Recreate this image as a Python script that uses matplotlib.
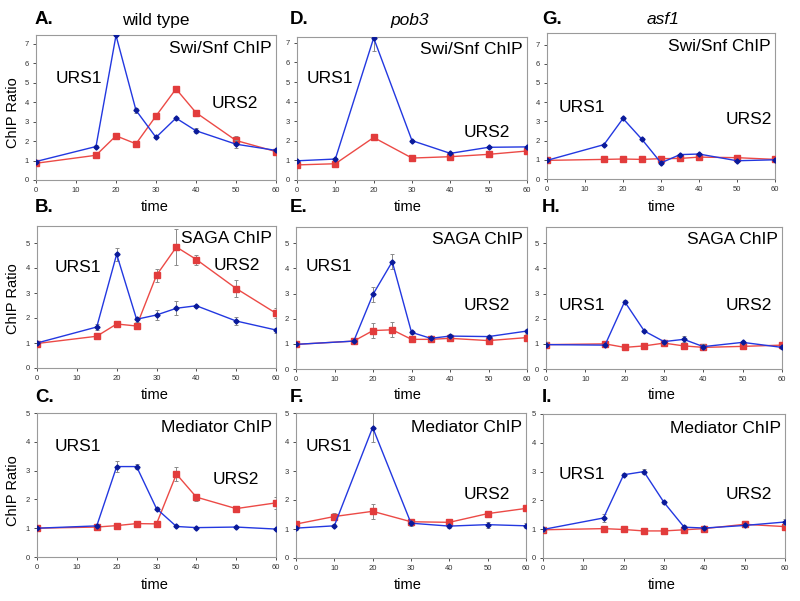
import matplotlib
matplotlib.use('Agg')
import matplotlib.pyplot as plt

plt.rcParams['font.family'] = ['Liberation Sans', 'DejaVu Sans']

W, H = 800, 601
BLUE = '#2338e0'
BLUE_MK = '#0a1a9a'
RED = '#ec4a46'
RED_MK = '#e23c3c'
ERR = '#8a8a8a'

# time points
t_full = [0, 15, 20, 25, 30, 35, 40, 50, 60]
t_pob3 = [0, 10, 20, 30, 40, 50, 60]

# wild type
a_urs1 = [0.95, 1.72, 7.43, 3.58, 2.19, 3.18, 2.53, 1.84, 1.52]
a_urs1_err = [0.03, 0.08, 0.05, 0.12, 0.05, 0.08, 0.12, 0.2, 0.05]
a_urs2 = [0.86, 1.27, 2.27, 1.86, 3.29, 4.68, 3.46, 2.03, 1.46]
a_urs2_err = [0.03, 0.05, 0.08, 0.08, 0.1, 0.1, 0.08, 0.25, 0.08]

b_urs1 = [1.0, 1.64, 4.55, 1.95, 2.12, 2.39, 2.49, 1.88, 1.52]
b_urs1_err = [0.05, 0.13, 0.25, 0.1, 0.2, 0.28, 0.05, 0.17, 0.1]
b_urs2 = [0.98, 1.27, 1.76, 1.68, 3.71, 4.84, 4.34, 3.18, 2.19]
b_urs2_err = [0.05, 0.05, 0.1, 0.12, 0.27, 0.7, 0.2, 0.33, 0.2]

c_urs1 = [1.0, 1.08, 3.14, 3.14, 1.68, 1.06, 1.02, 1.04, 0.97]
c_urs1_err = [0.02, 0.03, 0.2, 0.1, 0.05, 0.03, 0.03, 0.03, 0.03]
c_urs2 = [1.0, 1.04, 1.09, 1.16, 1.15, 2.88, 2.08, 1.68, 1.88]
c_urs2_err = [0.02, 0.03, 0.05, 0.08, 0.08, 0.25, 0.12, 0.05, 0.2]

# pob3
d_urs1 = [0.98, 1.07, 7.25, 2.01, 1.36, 1.67, 1.69]
d_urs1_err = [0.03, 0.05, 0.65, 0.05, 0.05, 0.05, 0.05]
d_urs2 = [0.77, 0.83, 2.17, 1.12, 1.19, 1.31, 1.48]
d_urs2_err = [0.03, 0.05, 0.15, 0.05, 0.05, 0.05, 0.05]

e_urs1 = [0.98, 1.11, 2.97, 4.27, 1.46, 1.22, 1.31, 1.29, 1.51]
e_urs1_err = [0.02, 0.02, 0.3, 0.3, 0.05, 0.05, 0.08, 0.05, 0.08]
e_urs2 = [0.98, 1.11, 1.53, 1.56, 1.18, 1.18, 1.22, 1.13, 1.25]
e_urs2_err = [0.02, 0.02, 0.3, 0.3, 0.05, 0.05, 0.08, 0.05, 0.15]

f_urs1 = [1.03, 1.11, 4.5, 1.2, 1.1, 1.15, 1.11]
f_urs1_err = [0.05, 0.05, 0.5, 0.08, 0.08, 0.1, 0.08]
f_urs2 = [1.17, 1.43, 1.61, 1.25, 1.23, 1.53, 1.71]
f_urs2_err = [0.05, 0.12, 0.25, 0.08, 0.05, 0.05, 0.05]

# asf1
g_urs1 = [0.97, 1.79, 3.15, 2.06, 0.84, 1.27, 1.3, 0.95, 1.0]
g_urs1_err = [0.03, 0.05, 0.05, 0.05, 0.05, 0.05, 0.05, 0.05, 0.03]
g_urs2 = [0.97, 1.02, 1.04, 1.02, 1.06, 1.07, 1.14, 1.11, 1.02]
g_urs2_err = [0.03, 0.03, 0.03, 0.03, 0.03, 0.03, 0.03, 0.03, 0.03]

h_urs1 = [0.97, 0.95, 2.68, 1.51, 1.09, 1.18, 0.89, 1.06, 0.86]
h_urs1_err = [0.1, 0.05, 0.05, 0.05, 0.08, 0.12, 0.1, 0.05, 0.08]
h_urs2 = [0.97, 1.0, 0.86, 0.92, 1.03, 0.92, 0.86, 0.9, 0.95]
h_urs2_err = [0.1, 0.05, 0.05, 0.05, 0.05, 0.12, 0.12, 0.05, 0.08]

i_urs1 = [0.99, 1.39, 2.89, 3.0, 1.93, 1.07, 1.04, 1.13, 1.25]
i_urs1_err = [0.1, 0.15, 0.05, 0.1, 0.05, 0.08, 0.05, 0.05, 0.1]
i_urs2 = [0.98, 1.02, 0.99, 0.94, 0.94, 0.98, 1.02, 1.17, 1.09]
i_urs2_err = [0.08, 0.03, 0.03, 0.03, 0.03, 0.03, 0.03, 0.03, 0.08]

# (letter, times, urs1, urs1_err, urs2, urs2_err, box px (l, r, top, bottom), ymax,
#  chip label, urs1 pos, urs2 pos)
panels = [
    ('A', t_full, a_urs1, a_urs1_err, a_urs2, a_urs2_err, (36, 276, 35, 180), 7.45, [0, 1, 2, 3, 4, 5, 6, 7],
     'Swi/Snf ChIP', (0.08, 0.70), (0.73, 0.53)),
    ('D', t_pob3, d_urs1, d_urs1_err, d_urs2, d_urs2_err, (297, 527, 37, 180), 7.3, [0, 1, 2, 3, 4, 5, 6, 7],
     'Swi/Snf ChIP', (0.043, 0.71), (0.726, 0.33)),
    ('G', t_full, g_urs1, g_urs1_err, g_urs2, g_urs2_err, (547, 775, 33, 179), 7.6, [0, 1, 2, 3, 4, 5, 6, 7],
     'Swi/Snf ChIP', (0.053, 0.49), (0.785, 0.41)),
    ('B', t_full, b_urs1, b_urs1_err, b_urs2, b_urs2_err, (37, 276, 226, 368), 5.68, [0, 1, 2, 3, 4, 5],
     'SAGA ChIP', (0.075, 0.71), (0.738, 0.725)),
    ('E', t_full, e_urs1, e_urs1_err, e_urs2, e_urs2_err, (296, 527, 227, 369), 5.65, [0, 1, 2, 3, 4, 5],
     'SAGA ChIP', (0.043, 0.72), (0.727, 0.45)),
    ('H', t_full, h_urs1, h_urs1_err, h_urs2, h_urs2_err, (546, 782, 227, 369), 5.65, [0, 1, 2, 3, 4, 5],
     'SAGA ChIP', (0.055, 0.45), (0.763, 0.45)),
    ('C', t_full, c_urs1, c_urs1_err, c_urs2, c_urs2_err, (37, 276, 413, 557), 5.0, [0, 1, 2, 3, 4, 5],
     'Mediator ChIP', (0.075, 0.77), (0.733, 0.535)),
    ('F', t_pob3, f_urs1, f_urs1_err, f_urs2, f_urs2_err, (296, 526, 413, 558), 5.0, [0, 1, 2, 3, 4, 5],
     'Mediator ChIP', (0.043, 0.77), (0.73, 0.44)),
    ('I', t_full, i_urs1, i_urs1_err, i_urs2, i_urs2_err, (543, 785, 414, 558), 5.0, [0, 1, 2, 3, 4, 5],
     'Mediator ChIP', (0.066, 0.58), (0.756, 0.44)),
]

fig = plt.figure(figsize=(W / 100, H / 100), dpi=100)
fig.patch.set_facecolor('white')


def fx(px):
    return px / W


def fy(py):
    return 1 - py / H


for (letter, times, u1, u1e, u2, u2e, box, ymax, yticks,
     chip, pos1, pos2) in panels:
    l, r, t, b = box
    ax = fig.add_axes([fx(l), fy(b), fx(r) - fx(l), fy(t) - fy(b)])
    # asf1 Swi/Snf panel has slightly heavier red squares
    red_ms = 5.0 if letter == 'G' else 4.2
    ax.errorbar(times, u2, yerr=u2e, color=RED, lw=1.0, marker='s', ms=red_ms,
                mfc=RED_MK, mec=RED_MK, ecolor=ERR, elinewidth=0.7, capsize=1.5, capthick=0.7, zorder=3)
    ax.errorbar(times, u1, yerr=u1e, color=BLUE, lw=1.0, marker='D', ms=2.6,
                mfc=BLUE_MK, mec=BLUE_MK, ecolor=ERR, elinewidth=0.7, capsize=1.5, capthick=0.7, zorder=4)
    ax.set_xlim(0, 60)
    ax.set_ylim(0, ymax)
    ax.set_xticks([0, 10, 20, 30, 40, 50, 60])
    ax.set_yticks(yticks)
    ax.tick_params(labelsize=5.5, colors='#333333', length=2.5, width=0.6, pad=2.5)
    for s in ax.spines.values():
        s.set_color('#9a9a9a')
        s.set_linewidth(0.8)
    ax.text(1 - 4 / (r - l), 0.91 if letter in 'ADGBEH' else 0.90, chip, transform=ax.transAxes,
            ha='right', va='center', fontsize=12.5)
    ax.text(pos1[0], pos1[1], 'URS1', transform=ax.transAxes, ha='left', va='center', fontsize=12.5)
    ax.text(pos2[0], pos2[1], 'URS2', transform=ax.transAxes, ha='left', va='center', fontsize=12.5)

# panel letters
for letter, x, y in [('A.', 35, 20), ('B.', 35, 208), ('C.', 35, 397),
                     ('D.', 290, 20), ('E.', 290, 208), ('F.', 290, 397),
                     ('G.', 542, 20), ('H.', 542, 208), ('I.', 542, 397)]:
    fig.text(fx(x), fy(y), letter, ha='left', va='center', fontsize=13.5, fontweight='bold')

# column titles
fig.text(fx(156), fy(20), 'wild type', ha='center', va='center', fontsize=12.5)
fig.text(fx(410), fy(20), 'pob3', ha='center', va='center', fontsize=12.5, style='italic')
fig.text(fx(663), fy(20), 'asf1', ha='center', va='center', fontsize=12.5, style='italic')

# x labels
for cx in (155, 408, 662):
    for y in (207, 395, 585):
        fig.text(fx(cx), fy(y), 'time', ha='center', va='center', fontsize=10.5)

# y labels
for y in (113, 299, 491):
    fig.text(fx(13), fy(y), 'ChIP Ratio', ha='center', va='center', fontsize=10.5, rotation=90)

fig.savefig('out.png', dpi=100, facecolor='white')
